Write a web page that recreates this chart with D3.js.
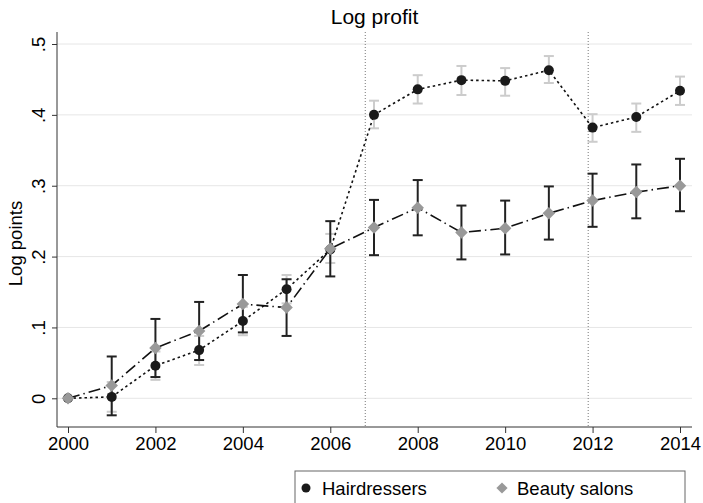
<!DOCTYPE html>
<html>
<head>
<meta charset="utf-8">
<script src="https://cdn.jsdelivr.net/npm/d3@7"></script>
<style>
  body { margin: 0; background: #fff; }
  text { font-family: 'Liberation Sans', Arial, sans-serif; fill: #000; }
</style>
</head>
<body>
<div id="chart"></div>
<script>
const years = [2000, 2001, 2002, 2003, 2004, 2005, 2006, 2007, 2008, 2009, 2010, 2011, 2012, 2013, 2014]

const hairValues = [0, 0.002, 0.046, 0.068, 0.109, 0.154, 0.21, 0.400, 0.436, 0.449, 0.448, 0.463, 0.382, 0.397, 0.434]
const hairLow = [0, -0.019, 0.026, 0.047, 0.089, 0.134, 0.191, 0.381, 0.416, 0.428, 0.427, 0.445, 0.362, 0.376, 0.414]
const hairHigh = [0, 0.023, 0.066, 0.088, 0.129, 0.174, 0.232, 0.420, 0.456, 0.469, 0.466, 0.483, 0.401, 0.416, 0.454]

const beautyValues = [0, 0.018, 0.071, 0.095, 0.133, 0.128, 0.211, 0.241, 0.269, 0.234, 0.240, 0.261, 0.279, 0.291, 0.300]
const beautyLow = [0, -0.024, 0.030, 0.054, 0.093, 0.088, 0.172, 0.202, 0.230, 0.196, 0.203, 0.224, 0.242, 0.254, 0.264]
const beautyHigh = [0, 0.059, 0.112, 0.136, 0.174, 0.168, 0.250, 0.280, 0.308, 0.272, 0.279, 0.299, 0.317, 0.330, 0.338]

const xTicks = [2000, 2002, 2004, 2006, 2008, 2010, 2012, 2014]
const yTicks = [0, 0.1, 0.2, 0.3, 0.4, 0.5]
const yTickLabels = ['0', '.1', '.2', '.3', '.4', '.5']
const eventLines = [2006.8, 2011.9]

const width = 703
const height = 503
const plot = { left: 57, right: 692, top: 32, bottom: 427 }
const fontSize = 18.5
const titleSize = 21

const svg = d3
  .select('#chart')
  .append('svg')
  .attr('width', width)
  .attr('height', height)

const x = d3.scaleLinear().domain([2000, 2014]).range([68, 680])
const y = d3.scaleLinear().domain([0, 0.5]).range([398.3, 44])

// gridlines
svg
  .selectAll('.grid')
  .data(yTicks)
  .enter()
  .append('line')
  .attr('x1', plot.left)
  .attr('x2', plot.right)
  .attr('y1', d => y(d))
  .attr('y2', d => y(d))
  .attr('stroke', '#e6e6e6')
  .attr('stroke-width', 1)

// event lines
svg
  .selectAll('.event')
  .data(eventLines)
  .enter()
  .append('line')
  .attr('x1', d => x(d))
  .attr('x2', d => x(d))
  .attr('y1', plot.top)
  .attr('y2', plot.bottom)
  .attr('stroke', '#777')
  .attr('stroke-width', 1)
  .attr('stroke-dasharray', '1,2')

// axes
const yAxis = d3
  .axisLeft(y)
  .tickValues(yTicks)
  .tickSize(5)
  .tickFormat((d, i) => yTickLabels[i])
const yG = svg
  .append('g')
  .attr('transform', `translate(${plot.left},0)`)
  .call(yAxis)
yG.attr('font-size', null).attr('font-family', null)
yG.select('.domain').attr('d', `M0,${plot.top}V${plot.bottom}`).attr('stroke', '#333')
yG.selectAll('.tick line').attr('stroke', '#333')
yG
  .selectAll('.tick text')
  .style('font-size', fontSize + 'px')
  .attr('transform', 'rotate(-90)')
  .attr('x', 0)
  .attr('y', -12)
  .attr('dy', 0)
  .attr('text-anchor', 'middle')

const xAxis = d3
  .axisBottom(x)
  .tickValues(xTicks)
  .tickSize(6)
  .tickFormat(d3.format('d'))
const xG = svg
  .append('g')
  .attr('transform', `translate(0,${plot.bottom})`)
  .call(xAxis)
xG.attr('font-size', null).attr('font-family', null)
xG.select('.domain').attr('d', `M${plot.left},0H${plot.right}`).attr('stroke', '#333')
xG.selectAll('.tick line').attr('stroke', '#333')
xG
  .selectAll('.tick text')
  .style('font-size', fontSize + 'px')
  .attr('y', 10)
  .attr('dy', '0.71em')

// titles
svg
  .append('text')
  .attr('x', (plot.left + plot.right) / 2)
  .attr('y', 24)
  .attr('text-anchor', 'middle')
  .style('font-size', titleSize + 'px')
  .text('Log profit')

svg
  .append('text')
  .attr('transform', `translate(22,${(plot.top + plot.bottom) / 2 + 14}) rotate(-90)`)
  .attr('text-anchor', 'middle')
  .style('font-size', fontSize + 'px')
  .text('Log points')

const hair = years.map((yr, i) => ({ year: yr, v: hairValues[i], lo: hairLow[i], hi: hairHigh[i] }))
const beauty = years.map((yr, i) => ({ year: yr, v: beautyValues[i], lo: beautyLow[i], hi: beautyHigh[i] }))

const line = d3
  .line()
  .x(d => x(d.year))
  .y(d => y(d.v))

function errorBars(data, color, cls) {
  const g = svg.append('g').attr('class', cls)
  const rows = data.filter(d => d.hi !== d.lo)
  g.selectAll('.stem')
    .data(rows)
    .enter()
    .append('line')
    .attr('x1', d => x(d.year))
    .attr('x2', d => x(d.year))
    .attr('y1', d => y(d.lo))
    .attr('y2', d => y(d.hi))
    .attr('stroke', color)
    .attr('stroke-width', 2)
  ;['lo', 'hi'].forEach(k => {
    g.selectAll('.cap-' + k)
      .data(rows)
      .enter()
      .append('line')
      .attr('x1', d => x(d.year) - 5)
      .attr('x2', d => x(d.year) + 5)
      .attr('y1', d => y(d[k]))
      .attr('y2', d => y(d[k]))
      .attr('stroke', color)
      .attr('stroke-width', 2)
  })
}

// hairdressers
errorBars(hair, '#cccccc', 'hair-ci')
svg
  .append('path')
  .datum(hair)
  .attr('d', line)
  .attr('fill', 'none')
  .attr('stroke', '#111')
  .attr('stroke-width', 1.6)
  .attr('stroke-dasharray', '2.5,3')

// beauty salons
errorBars(beauty, '#222', 'beauty-ci')

svg
  .selectAll('.hair-dot')
  .data(hair)
  .enter()
  .append('circle')
  .attr('cx', d => x(d.year))
  .attr('cy', d => y(d.v))
  .attr('r', 5)
  .attr('fill', '#1a1a1a')

svg
  .append('path')
  .datum(beauty)
  .attr('d', line)
  .attr('fill', 'none')
  .attr('stroke', '#111')
  .attr('stroke-width', 1.6)
  .attr('stroke-dasharray', '12,4,1.5,4')

const diamond = d3.symbol().type(d3.symbolDiamond2).size(100)
svg
  .selectAll('.beauty-dot')
  .data(beauty)
  .enter()
  .append('path')
  .attr('d', diamond)
  .attr('transform', d => `translate(${x(d.year)},${y(d.v)})`)
  .attr('fill', '#999')

// legend
const legend = svg.append('g')
legend
  .append('rect')
  .attr('x', 295)
  .attr('y', 471)
  .attr('width', 390)
  .attr('height', 50)
  .attr('fill', '#fff')
  .attr('stroke', '#666')
  .attr('stroke-width', 1)

legend
  .append('circle')
  .attr('cx', 306)
  .attr('cy', 488)
  .attr('r', 4.5)
  .attr('fill', '#1a1a1a')
legend
  .append('text')
  .attr('x', 322)
  .attr('y', 495)
  .style('font-size', fontSize + 'px')
  .text('Hairdressers')

legend
  .append('path')
  .attr('d', d3.symbol().type(d3.symbolDiamond2).size(80))
  .attr('transform', 'translate(502,488)')
  .attr('fill', '#999')
legend
  .append('text')
  .attr('x', 517)
  .attr('y', 495)
  .style('font-size', fontSize + 'px')
  .text('Beauty salons')
</script>
</body>
</html>
